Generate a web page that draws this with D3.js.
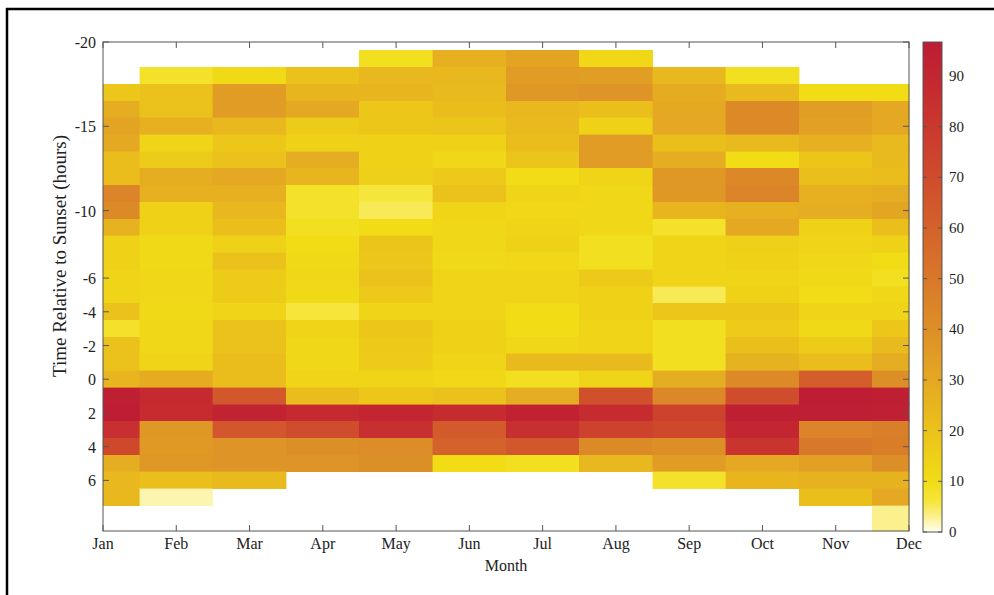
<!DOCTYPE html>
<html><head><meta charset="utf-8">
<script src="https://cdn.jsdelivr.net/npm/d3@7"></script>
<style>
body{margin:0;background:#fff}
svg{display:block}
text{font-family:"Liberation Serif","Times New Roman",serif;fill:#222}
</style>
</head><body><svg id="c" width="994" height="595"></svg>
<script>
// ---- data ----
const months = ["Jan","Feb","Mar","Apr","May","Jun","Jul","Aug","Sep","Oct","Nov","Dec"];
// hour (relative to sunset) for each row of values
const hours = [-19,-18,-17,-16,-15,-14,-13,-12,-11,-10,-9,-8,-7,-6,-5,-4,-3,-2,-1,0,1,2,3,4,5,6,7,8,9];
// one row per month, one entry per hour above (null = no data)
const values = [
  /*Jan*/ [null,null,18,28,32,30,22,22,45,42,26,14,14,13,13,20,8,20,20,25,95,96,85,72,28,24,24,null,null],
  /*Feb*/ [null,8,20,20,27,13,16,28,27,14,14,11,11,12,12,11,12,12,13,29,88,87,37,36,37,21,2,null,null],
  /*Mar*/ [null,11,35,35,24,18,20,30,27,24,21,14,20,16,16,13,20,20,22,22,65,92,65,38,38,23,null,null,null],
  /*Apr*/ [null,20,25,30,16,14,28,25,8,8,9,10,11,12,11,6,13,12,12,13,22,88,70,40,38,null,null,null,null],
  /*May*/ [9,24,25,18,18,14,14,15,6,5,10,19,18,20,17,13,18,17,16,13,18,90,85,41,40,null,null,null,null],
  /*Jun*/ [27,24,23,22,19,14,12,17,20,13,12,12,11,13,13,13,14,14,13,12,20,87,63,60,10,null,null,null,null],
  /*Jul*/ [32,35,37,24,23,22,19,10,13,12,13,14,12,13,13,10,10,12,23,9,28,93,85,65,9,null,null,null,null],
  /*Aug*/ [12,34,38,21,14,35,35,13,12,12,12,9,9,17,14,14,13,13,23,13,68,87,75,42,24,null,null,null,null],
  /*Sep*/ [null,24,29,30,30,21,28,37,37,25,8,13,13,13,5,18,9,9,9,28,43,75,72,40,35,8,null,null,null],
  /*Oct*/ [null,9,23,42,42,23,10,43,45,27,30,15,14,13,14,18,16,21,26,42,70,95,90,82,30,25,null,null,null],
  /*Nov*/ [null,null,10,34,33,27,19,21,27,28,14,13,12,11,10,13,11,16,22,62,96,95,45,50,33,26,21,null,null],
  /*Dec*/ [null,null,10,30,30,23,23,22,28,31,21,14,10,9,12,13,18,23,28,40,95,94,47,48,40,26,30,3,3]
];
const yTicks = [-20,-15,-10,-6,-4,-2,0,2,4,6];
const cbTicks = [0,10,20,30,40,50,60,70,80,90];
const cbMax = 96.7;
const colorStops = [0,3,6,10,20,30,40,50,60,70,80,90,96.7];
const colorHex = ["#fffff2","#fbf08e","#f6e63c","#f1dc16","#ebc21b","#e4a822","#dd8f27","#d8782a","#d4622b","#cf4c2c","#ca382e","#c42631","#bd1c34"];

// ---- layout ----
const svg = d3.select("#c");
const W = 994, H = 595;
const plot = {x0:103, x1:909, y0:42, y1:531};
const cb = {x0:923, x1:942, y0:42, y1:532};

const color = d3.scaleLinear().domain(colorStops).range(colorHex).interpolate(d3.interpolateRgb).clamp(true);
const x = d3.scaleLinear().domain([1,12]).range([plot.x0, plot.x1]);
const y = d3.scaleLinear().domain([-20,9]).range([plot.y0, plot.y1]);

// frame of the figure (left and top edges)
svg.append("line").attr("x1",7).attr("x2",7).attr("y1",8).attr("y2",H).attr("stroke","#000").attr("stroke-width",2.5);
svg.append("line").attr("x1",6).attr("x2",W).attr("y1",9).attr("y2",9).attr("stroke","#000").attr("stroke-width",2.5);

// cells
const cells = [];
values.forEach((row, mi) => {
  row.forEach((v, hi) => {
    if (v === null) return;
    cells.push({m: mi + 1, h: hours[hi], v});
  });
});
const clampX = d => Math.max(1, Math.min(12, d));
const clampY = d => Math.max(-20, Math.min(9, d));
svg.append("g").selectAll("rect").data(cells).join("rect")
  .attr("x", d => x(clampX(d.m - 0.5)))
  .attr("width", d => x(clampX(d.m + 0.5)) - x(clampX(d.m - 0.5)))
  .attr("y", d => y(clampY(d.h - 0.5)))
  .attr("height", d => y(clampY(d.h + 0.5)) - y(clampY(d.h - 0.5)))
  .attr("fill", d => color(d.v))
  .attr("stroke", d => color(d.v)).attr("stroke-width", 0.4)
  .attr("shape-rendering","crispEdges");

// axes box + ticks
const axG = svg.append("g");
axG.append("rect").attr("x",plot.x0).attr("y",plot.y0).attr("width",plot.x1-plot.x0).attr("height",plot.y1-plot.y0)
  .attr("fill","none").attr("stroke","#555").attr("stroke-width",1);
const tl = 6;
const monthIdx = months.map((m,i)=>i+1);
monthIdx.forEach(m => {
  axG.append("line").attr("x1",x(m)).attr("x2",x(m)).attr("y1",plot.y1).attr("y2",plot.y1-tl).attr("stroke","#555");
  axG.append("line").attr("x1",x(m)).attr("x2",x(m)).attr("y1",plot.y0).attr("y2",plot.y0+tl).attr("stroke","#555");
});
yTicks.forEach(t => {
  axG.append("line").attr("x1",plot.x0).attr("x2",plot.x0+tl).attr("y1",y(t)).attr("y2",y(t)).attr("stroke","#555");
  axG.append("line").attr("x1",plot.x1).attr("x2",plot.x1-tl).attr("y1",y(t)).attr("y2",y(t)).attr("stroke","#555");
});
// tick labels
axG.selectAll("text.xt").data(months).join("text").attr("class","xt")
  .attr("x",(d,i)=>x(i+1)).attr("y",plot.y1+18).attr("text-anchor","middle")
  .attr("font-size",16).text(d=>d);
axG.selectAll("text.yt").data(yTicks).join("text").attr("class","yt")
  .attr("x",plot.x0-7).attr("y",d=>y(d)+6).attr("text-anchor","end")
  .attr("font-size",16).text(d=>d);
// axis titles
svg.append("text").attr("x",(plot.x0+plot.x1)/2).attr("y",571).attr("text-anchor","middle")
  .attr("font-size",16).text("Month");
svg.append("text").attr("transform","translate(66,256) rotate(-90)").attr("text-anchor","middle")
  .attr("font-size",19).text("Time Relative to Sunset (hours)");

// colorbar
const cy = d3.scaleLinear().domain([0,cbMax]).range([cb.y1, cb.y0]);
const defs = svg.append("defs");
const grad = defs.append("linearGradient").attr("id","cbg").attr("x1",0).attr("x2",0).attr("y1",1).attr("y2",0);
colorStops.forEach((s,i)=>{
  grad.append("stop").attr("offset", s/cbMax).attr("stop-color", colorHex[i]);
});
svg.append("rect").attr("x",cb.x0).attr("y",cb.y0).attr("width",cb.x1-cb.x0).attr("height",cb.y1-cb.y0)
  .attr("fill","url(#cbg)").attr("stroke","#555").attr("stroke-width",1);
cbTicks.forEach(t=>{
  svg.append("line").attr("x1",cb.x0).attr("x2",cb.x0+4).attr("y1",cy(t)).attr("y2",cy(t)).attr("stroke","#555");
  svg.append("line").attr("x1",cb.x1).attr("x2",cb.x1-4).attr("y1",cy(t)).attr("y2",cy(t)).attr("stroke","#555");
});
svg.selectAll("text.cbt").data(cbTicks).join("text").attr("class","cbt")
  .attr("x",cb.x1+7).attr("y",d=>cy(d)+5).attr("font-size",15).text(d=>d);
</script>
</body></html>
